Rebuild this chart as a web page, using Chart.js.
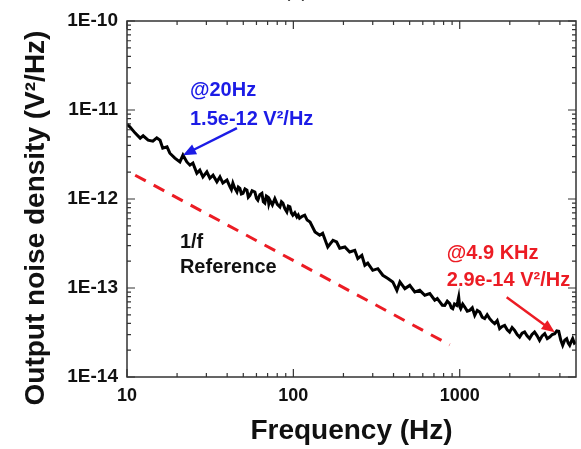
<!DOCTYPE html>
<html>
<head>
<meta charset="utf-8">
<script src="https://cdn.jsdelivr.net/npm/chart.js@4.4.1/dist/chart.umd.min.js"></script>
<style>
html,body{margin:0;padding:0;background:#fff;}
#wrap{width:581px;height:449px;position:relative;}
</style>
</head>
<body>
<div id="wrap"><canvas id="noise-chart" width="581" height="449"></canvas></div>
<script>
// measured output noise spectrum: frequency (Hz) and density (V^2/Hz)
const freqHz = [10, 10.4, 11.2, 12.0, 12.5, 13.4, 14.3, 15.1, 15.8, 16.4,
  17.4, 18.1, 19.4, 20.8, 21.7, 22.9, 23.9, 24.9, 26.3, 27.4,
  28.6, 30.2, 31.5, 32.9, 34.7, 36.2, 37.7, 39.9,
  41.6, 42.4, 43.3, 44.4, 45.8, 46.7, 47.7, 48.7, 49.8, 51.2,
  52.6, 53.6, 54.8, 56.5, 58.7, 60.0, 61.2, 62.9, 64.7, 66.0,
  67.4, 68.8, 70.3, 71.2, 72.3, 74.8, 77.4, 80.1, 83.0, 84.8,
  86.5, 88.9, 91.4, 93.3, 95.3, 97.3, 99.3, 102, 105, 107,
  109, 113, 117, 121, 126,
  135, 144, 150, 161, 173, 182, 190, 204, 218, 234,
  244, 258, 269, 280, 300, 322, 345, 370, 396, 419,
  437, 468, 501, 537, 575, 617, 661,
  708, 733, 759, 786, 813, 842, 871, 890, 908, 930,
  959, 972, 986, 1000, 1014, 1042, 1072, 1110, 1148, 1190,
  1231, 1275, 1319, 1365, 1413, 1462, 1514, 1567, 1622, 1680,
  1738, 1800, 1862, 1930, 1995, 2065, 2138, 2215, 2291, 2370,
  2455, 2540, 2630, 2720, 2818, 2920, 3020, 3130, 3243, 3360,
  3474, 3600, 3724, 3830, 3936, 4050, 4159, 4280, 4395, 4490,
  4581, 4680, 4775, 4890, 5000];
const noiseDensity = [6.93e-12, 6.47e-12, 5.50e-12, 4.83e-12, 5.13e-12, 4.58e-12, 4.47e-12, 4.86e-12, 4.58e-12, 3.72e-12,
  3.85e-12, 3.27e-12, 2.88e-12, 2.61e-12, 3.11e-12, 2.61e-12, 2.40e-12, 2.53e-12, 1.95e-12, 2.11e-12,
  1.77e-12, 2.02e-12, 1.71e-12, 1.85e-12, 1.56e-12, 1.77e-12, 1.51e-12, 1.63e-12,
  1.37e-12, 1.28e-12, 1.51e-12, 1.33e-12, 1.20e-12, 1.36e-12, 1.32e-12, 1.14e-12, 1.16e-12, 1.30e-12,
  1.26e-12, 1.05e-12, 1.10e-12, 1.24e-12, 1.20e-12, 1.02e-12, 9.7e-13, 1.12e-12, 1.16e-12, 9.3e-13,
  8.97e-13, 1.08e-12, 1.05e-12, 8.8e-13, 9.7e-13, 8.6e-13, 1.01e-12, 8.7e-13, 8.15e-13, 9.3e-13,
  8.97e-13, 7.8e-13, 7.16e-13, 8.3e-13, 8.15e-13, 7.0e-13, 6.58e-13, 7.0e-13, 6.29e-13, 6.6e-13,
  6.08e-13, 6.4e-13, 6.58e-13, 5.8e-13, 5.52e-13,
  4.27e-13, 3.92e-13, 4.12e-13, 2.89e-13, 3.44e-13, 3.29e-13, 2.80e-13, 2.89e-13, 2.54e-13, 2.65e-13,
  2.14e-13, 2.33e-13, 1.80e-13, 1.90e-13, 1.58e-13, 1.65e-13, 1.39e-13, 1.28e-13, 1.17e-13, 9.4e-14,
  1.17e-13, 9.84e-14, 1.07e-13, 9.02e-14, 9.42e-14, 8.28e-14, 8.65e-14,
  7.28e-14, 7.6e-14, 6.97e-14, 6.4e-14, 6.38e-14, 7.1e-14, 6.68e-14, 6.0e-14, 5.86e-14, 6.6e-14,
  6.38e-14, 7.0e-14, 7.92e-14, 6.2e-14, 5.86e-14, 6.6e-14, 6.11e-14, 5.5e-14, 5.61e-14, 6.0e-14,
  4.93e-14, 5.6e-14, 5.37e-14, 4.7e-14, 4.53e-14, 5.0e-14, 4.53e-14, 4.2e-14, 3.98e-14, 4.3e-14,
  3.49e-14, 3.7e-14, 3.80e-14, 3.4e-14, 3.20e-14, 3.6e-14, 3.34e-14, 3.0e-14, 2.81e-14, 3.1e-14,
  3.20e-14, 2.9e-14, 2.70e-14, 3.0e-14, 3.20e-14, 2.9e-14, 2.58e-14, 2.9e-14, 3.07e-14, 2.7e-14,
  2.81e-14, 3.0e-14, 3.07e-14, 3.3e-14, 3.26e-14, 2.6e-14, 2.27e-14, 2.6e-14, 2.70e-14, 2.4e-14,
  2.27e-14, 2.5e-14, 2.70e-14, 2.4e-14, 2.47e-14];

// 1/f reference line (end points)
const refFreq = [11.2, 870];
const refDensity = [1.85e-12, 2.3e-14];

// axes
const xTickValues = [10, 100, 1000];
const xTickLabels = ['10', '100', '1000'];
const yTickValues = [1e-14, 1e-13, 1e-12, 1e-11, 1e-10];
const yTickLabels = ['1E-14', '1E-13', '1E-12', '1E-11', '1E-10'];

const FONT = '"Liberation Sans", Arial, sans-serif';
const BLUE = '#1c1ce6', RED = '#ec1c24';

// minor ticks 2..9 of every decade
function minorTicks(decades, min, max){
  const out = [];
  decades.forEach(d => { for(let k=2;k<10;k++){ const v=d*k; if(v>min && v<max) out.push(v); } });
  return out;
}

function arrow(ctx, x0, y0, x1, y1, color){
  const a = Math.atan2(y1-y0, x1-x0), L = 13, W = 5.5;
  ctx.save();
  ctx.strokeStyle = color; ctx.fillStyle = color; ctx.lineWidth = 2.5;
  ctx.beginPath(); ctx.moveTo(x0,y0); ctx.lineTo(x1 - L*0.8*Math.cos(a), y1 - L*0.8*Math.sin(a)); ctx.stroke();
  ctx.beginPath();
  ctx.moveTo(x1,y1);
  ctx.lineTo(x1 - L*Math.cos(a) + W*Math.sin(a), y1 - L*Math.sin(a) - W*Math.cos(a));
  ctx.lineTo(x1 - L*Math.cos(a) - W*Math.sin(a), y1 - L*Math.sin(a) + W*Math.cos(a));
  ctx.closePath(); ctx.fill();
  ctx.restore();
}

// box, inward ticks, annotations, y title
const frame = {
  id: 'frame',
  afterDraw(chart){
    const {ctx, chartArea: a, scales: {x, y}} = chart;
    ctx.save();
    ctx.strokeStyle = '#333'; ctx.lineWidth = 1.5;
    ctx.strokeRect(a.left, a.top, a.right-a.left, a.bottom-a.top);
    ctx.lineWidth = 1.2;
    const xt = (v, len) => { const p = x.getPixelForValue(v);
      ctx.beginPath(); ctx.moveTo(p, a.bottom); ctx.lineTo(p, a.bottom-len);
      ctx.moveTo(p, a.top); ctx.lineTo(p, a.top+len); ctx.stroke(); };
    const yt = (v, len) => { const p = y.getPixelForValue(v);
      ctx.beginPath(); ctx.moveTo(a.left, p); ctx.lineTo(a.left+len, p);
      ctx.moveTo(a.right, p); ctx.lineTo(a.right-len, p); ctx.stroke(); };
    xTickValues.forEach(v => xt(v, 8));
    minorTicks(xTickValues, 10, 5000).forEach(v => xt(v, 4));
    yTickValues.forEach(v => yt(v, 8));
    minorTicks(yTickValues, 1e-14, 1e-10).forEach(v => yt(v, 4));

    const px = v => x.getPixelForValue(v), py = v => y.getPixelForValue(v);
    ctx.font = 'bold 20px ' + FONT;
    ctx.textAlign = 'left'; ctx.textBaseline = 'middle';
    ctx.fillStyle = BLUE;
    ctx.fillText('@20Hz', px(23.9), py(1.67e-11));
    ctx.fillText('1.5e-12 V\u00b2/Hz', px(23.9), py(7.9e-12));
    arrow(ctx, px(45.8), py(6.25e-12), px(21.7), py(3.11e-12), BLUE);
    ctx.fillStyle = '#111';
    ctx.fillText('1/f', px(20.8), py(3.27e-13));
    ctx.fillText('Reference', px(20.8), py(1.71e-13));
    ctx.fillStyle = RED;
    ctx.fillText('@4.9 KHz', px(836), py(2.45e-13));
    ctx.fillText('2.9e-14 V\u00b2/Hz', px(836), py(1.22e-13));
    arrow(ctx, px(1915), py(7.85e-14), px(3724), py(3.18e-14), RED);

    // y axis title
    ctx.fillStyle = '#111';
    ctx.font = 'bold 28px ' + FONT;
    ctx.textAlign = 'center';
    ctx.translate(36, 218); ctx.rotate(-Math.PI/2);
    ctx.fillText('Output noise density (V\u00b2/Hz)', 0, 0);
    ctx.restore();

    // cut-off panel label at the very top
    ctx.save();
    ctx.font = '20px ' + FONT; ctx.fillStyle = '#333'; ctx.textAlign = 'center'; ctx.textBaseline = 'middle';
    ctx.fillText('(b)', 296, -9);
    ctx.restore();
  }
};

new Chart(document.getElementById('noise-chart'), {
  type: 'scatter',
  data: {
    datasets: [
      { label: 'noise', data: freqHz.map((f,i) => ({x:f, y:noiseDensity[i]})),
        showLine: true, borderColor: '#000', borderWidth: 3, pointRadius: 0, tension: 0 },
      { label: '1/f reference', data: refFreq.map((f,i) => ({x:f, y:refDensity[i]})),
        showLine: true, borderColor: RED, borderWidth: 3, borderDash: [12, 9], pointRadius: 0 }
    ]
  },
  options: {
    responsive: false, animation: false,
    layout: { padding: { top: 21, right: 5, left: 0, bottom: 0 } },
    plugins: { legend: { display: false }, tooltip: { enabled: false } },
    scales: {
      x: {
        type: 'logarithmic', min: 10, max: 5000,
        grid: { display: false, drawTicks: false }, border: { display: false },
        afterBuildTicks: s => { s.ticks = xTickValues.map(v => ({value: v})); },
        afterFit: s => { s.height = 72; },
        ticks: { color: '#111', padding: 8, font: { family: FONT, size: 18, weight: 'bold' },
          maxRotation: 0, autoSkip: false,
          callback: v => xTickLabels[xTickValues.indexOf(v)] },
        title: { display: true, text: 'Frequency (Hz)', color: '#111',
          font: { family: FONT, size: 28, weight: 'bold' }, padding: { top: 0, bottom: 1 } }
      },
      y: {
        type: 'logarithmic', min: 1e-14, max: 1e-10,
        grid: { display: false, drawTicks: false }, border: { display: false },
        afterBuildTicks: s => { s.ticks = yTickValues.map(v => ({value: v})); },
        afterFit: s => { s.width = 127; },
        ticks: { color: '#111', padding: 9, font: { family: FONT, size: 19, weight: 'bold' },
          autoSkip: false,
          callback: v => { const i = yTickValues.findIndex(t => Math.abs(Math.log10(t) - Math.log10(v)) < 1e-6); return i < 0 ? '' : yTickLabels[i]; } }
      }
    }
  },
  plugins: [frame]
});
</script>
</body>
</html>
